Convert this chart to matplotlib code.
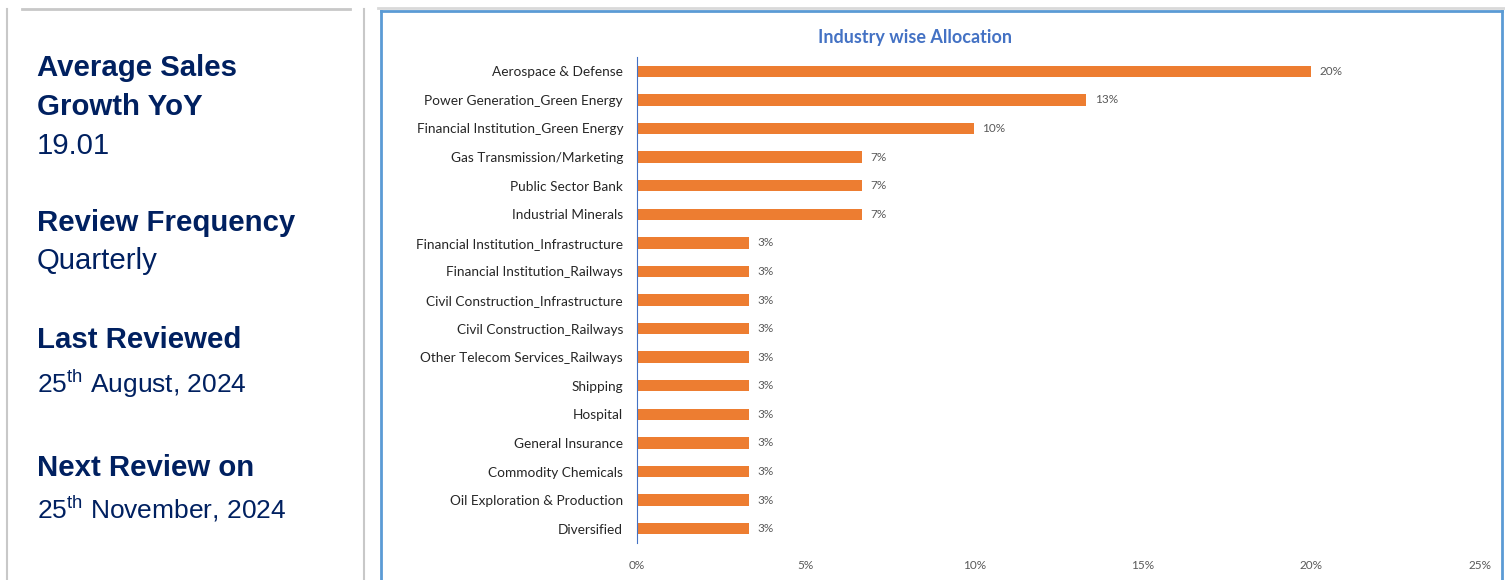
import matplotlib.pyplot as plt
from matplotlib.lines import Line2D
from matplotlib.ticker import FuncFormatter

W, H = 1505, 580

industries = [
    "Aerospace & Defense",
    "Power Generation_Green Energy",
    "Financial Institution_Green Energy",
    "Gas Transmission/Marketing",
    "Public Sector Bank",
    "Industrial Minerals",
    "Financial Institution_Infrastructure",
    "Financial Institution_Railways",
    "Civil Construction_Infrastructure",
    "Civil Construction_Railways",
    "Other Telecom Services_Railways",
    "Shipping",
    "Hospital",
    "General Insurance",
    "Commodity Chemicals",
    "Oil Exploration & Production",
    "Diversified",
]
allocation = [20.0, 13.33, 10.0, 6.67, 6.67, 6.67, 3.33, 3.33, 3.33, 3.33,
              3.33, 3.33, 3.33, 3.33, 3.33, 3.33, 3.33]
x_ticks = [0, 5, 10, 15, 20, 25]

info = [
    ("Average Sales", True, 76, 21.2),
    ("Growth YoY", True, 115, 21.2),
    ("19.01", False, 154, 21.2),
    ("Review Frequency", True, 231, 21.2),
    ("Quarterly", False, 269, 21.2),
    ("Last Reviewed", True, 348, 21.2),
    (r"25$^{\mathrm{th}}$ August, 2024", False, 393, 19),
    ("Next Review on", True, 476, 21.2),
    (r"25$^{\mathrm{th}}$ November, 2024", False, 519, 19),
]

plt.rcParams['mathtext.fontset'] = 'custom'
plt.rcParams['mathtext.rm'] = 'Liberation Sans'

navy = '#002060'
orange = '#ED7D31'
gray_txt = '#595959'
blue_border = '#5B9BD5'
label_font = ['Lato', 'DejaVu Sans']

fig = plt.figure(figsize=(W / 100, H / 100), dpi=100)


def fx(px):
    return px / W


def fy(py):
    return 1 - py / H


def line(x0, y0, x1, y1, color, lw):
    fig.add_artist(Line2D([fx(x0), fx(x1)], [fy(y0), fy(y1)], color=color, lw=lw,
                          transform=fig.transFigure))


# panel borders
line(22, 9, 350, 9, '#c8c8c8', 2)
line(7, 9, 7, 580, '#c8c8c8', 1.5)
line(364, 9, 364, 580, '#c8c8c8', 1.5)
line(378, 8, 1505, 8, '#d9d9d9', 2)
line(381, 11, 1502, 11, blue_border, 2)
line(381, 11, 381, 580, blue_border, 2)
line(1502, 11, 1502, 580, blue_border, 2)

for txt, bold, base, size in info:
    fig.text(fx(37), fy(base), txt, color=navy, fontsize=size,
             fontweight='bold' if bold else 'normal', family='Liberation Sans',
             va='baseline', ha='left')

ax = fig.add_axes([fx(637), fy(543), fx(1480) - fx(637), fy(57) - fy(543)])
ypos = list(range(len(industries)))
ax.barh(ypos, allocation, height=0.4, color=orange)
ax.set_ylim(len(industries) - 0.5, -0.5)
ax.set_xlim(0, 25)
ax.set_yticks(ypos)
ax.set_yticklabels(industries, family=label_font, fontsize=9.8, color='#262626')
ax.set_xticks(x_ticks)
ax.xaxis.set_major_formatter(FuncFormatter(lambda v, p: f"{v:.0f}%"))
for lab in ax.get_xticklabels():
    lab.set_family(label_font)
    lab.set_fontsize(8.5)
    lab.set_color(gray_txt)
ax.tick_params(length=0)
ax.tick_params(axis='x', pad=12)
ax.tick_params(axis='y', pad=10)
for s in ['top', 'right', 'bottom']:
    ax.spines[s].set_visible(False)
ax.spines['left'].set_color('#4472C4')
ax.spines['left'].set_linewidth(0.8)

for y, v in zip(ypos, allocation):
    ax.annotate(f"{v:.0f}%", (v, y), xytext=(6, 0), textcoords='offset points',
                va='center', ha='left', fontsize=8.5, color=gray_txt, family=label_font)

fig.text(fx(915), fy(38), "Industry wise Allocation", color='#4472C4', fontsize=13,
         fontweight='bold', family=label_font, ha='center', va='center')

fig.savefig('out.png', dpi=100)
